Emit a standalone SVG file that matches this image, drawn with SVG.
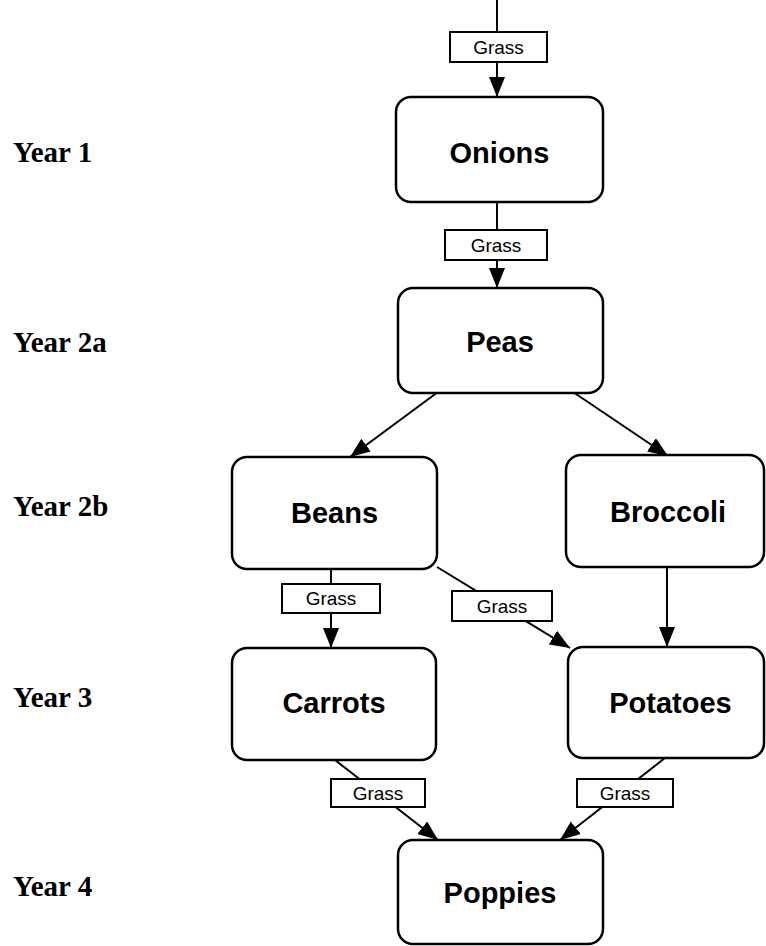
<svg xmlns="http://www.w3.org/2000/svg" width="766" height="946" viewBox="0 0 766 946">
<defs>
<style>
.box{fill:#fff;stroke:#000;stroke-width:2.5}
.node{font-family:"Liberation Sans",Arial,sans-serif;font-weight:bold;font-size:29px;text-anchor:middle;fill:#000}
.year{font-family:"Liberation Serif","Times New Roman",serif;font-weight:bold;font-size:29px;fill:#000}
.edge{stroke:#000;stroke-width:2;fill:none;marker-end:url(#arr)}
.lbox{fill:#fff;stroke:#000;stroke-width:2}
.ltxt{font-family:"Liberation Sans",Arial,sans-serif;font-size:19px;text-anchor:middle;fill:#000}
</style>
<marker id="arr" markerUnits="userSpaceOnUse" markerWidth="21" markerHeight="17" refX="20" refY="8" orient="auto">
<path d="M0,0 L20,8 L0,16 Z" fill="#000"/>
</marker>
</defs>
<rect width="766" height="946" fill="#fff"/>
<g id="years">
<text class="year" x="13" y="162">Year 1</text>
<text class="year" x="13" y="352">Year 2a</text>
<text class="year" x="13" y="516">Year 2b</text>
<text class="year" x="13" y="707">Year 3</text>
<text class="year" x="13" y="896">Year 4</text>
</g>
<g id="connectors">
<line class="edge" x1="497" y1="0" x2="497" y2="97"/>
<line class="edge" x1="497" y1="202" x2="497" y2="288"/>
<line class="edge" x1="438" y1="392" x2="350" y2="457"/>
<line class="edge" x1="573" y1="392" x2="668" y2="456"/>
<line class="edge" x1="331" y1="569" x2="331" y2="648"/>
<line class="edge" x1="437" y1="567" x2="570" y2="648"/>
<line class="edge" x1="667" y1="567" x2="667" y2="647"/>
<line class="edge" x1="335" y1="760" x2="438" y2="840"/>
<line class="edge" x1="665" y1="758" x2="560" y2="840"/>
<rect class="lbox" x="450" y="32" width="97" height="30"/>
<text class="ltxt" x="498.5" y="54">Grass</text>
<rect class="lbox" x="445" y="230" width="102" height="30"/>
<text class="ltxt" x="496" y="252">Grass</text>
<rect class="lbox" x="282" y="584" width="98" height="29"/>
<text class="ltxt" x="331" y="605">Grass</text>
<rect class="lbox" x="452" y="591" width="100" height="30"/>
<text class="ltxt" x="502" y="613">Grass</text>
<rect class="lbox" x="331" y="779" width="94" height="28"/>
<text class="ltxt" x="378" y="800">Grass</text>
<rect class="lbox" x="577" y="779" width="96" height="28"/>
<text class="ltxt" x="625" y="800">Grass</text>
</g>
<g id="onions">
<rect class="box" x="396" y="97" width="207" height="105" rx="15"/>
<text class="node" x="499.5" y="163">Onions</text>
</g>
<g id="peas">
<rect class="box" x="398" y="288" width="205" height="105" rx="15"/>
<text class="node" x="500" y="352">Peas</text>
</g>
<g id="beans">
<rect class="box" x="232" y="457" width="205" height="112" rx="15"/>
<text class="node" x="334.5" y="523">Beans</text>
</g>
<g id="broccoli">
<rect class="box" x="566" y="455" width="198" height="112" rx="15"/>
<text class="node" x="668" y="522">Broccoli</text>
</g>
<g id="carrots">
<rect class="box" x="232" y="648" width="204" height="112" rx="15"/>
<text class="node" x="334" y="713">Carrots</text>
</g>
<g id="potatoes">
<rect class="box" x="568" y="647" width="196" height="111" rx="15"/>
<text class="node" x="670.5" y="713">Potatoes</text>
</g>
<g id="poppies">
<rect class="box" x="398" y="840" width="205" height="104" rx="15"/>
<text class="node" x="500" y="903">Poppies</text>
</g>
</svg>
